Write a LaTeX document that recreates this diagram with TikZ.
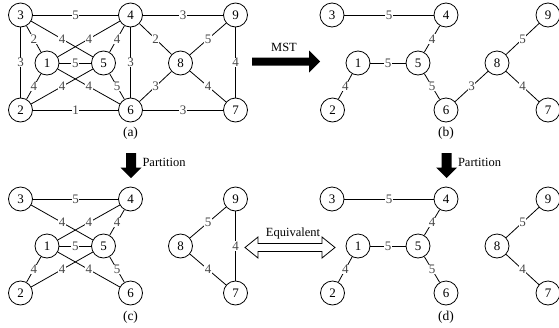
\documentclass[tikz,border=0pt]{standalone}
\usepackage{fontspec}
\setmainfont{Liberation Serif}
\begin{document}
\begin{tikzpicture}[x=1pt,y=-1pt,
  vtx/.style={circle,draw,line width=0.8pt,minimum size=24pt,inner sep=0pt,font=\fontsize{13}{13}\selectfont},
  wl/.style={fill=white,inner sep=0.6pt,font=\fontsize{13}{13}\selectfont,text=black!72},
  edge/.style={line width=0.8pt},
  captxt/.style={font=\fontsize{13.5}{13.5}\selectfont},
  arrtxt/.style={font=\fontsize{12.5}{12.5}\selectfont}]
\useasboundingbox (0,0) rectangle (559,327);
% ---------- panel (a)
\node[vtx] (a3) at (20.5,15) {3};
\node[vtx] (a4) at (130.5,15) {4};
\node[vtx] (a9) at (235.5,15) {9};
\node[vtx] (a1) at (47,63) {1};
\node[vtx] (a5) at (103.5,63) {5};
\node[vtx] (a8) at (180.5,63) {8};
\node[vtx] (a2) at (20.5,110) {2};
\node[vtx] (a6) at (130.5,110) {6};
\node[vtx] (a7) at (235.5,110) {7};
\draw[edge] (a3) -- node[wl]{5} (a4);
\draw[edge] (a4) -- node[wl]{3} (a9);
\draw[edge] (a3) -- node[wl]{3} (a2);
\draw[edge] (a3) -- node[wl]{2} (a1);
\draw[edge] (a3) -- node[wl]{4} (a5);
\draw[edge] (a1) -- node[wl]{4} (a4);
\draw[edge] (a4) -- node[wl]{4} (a5);
\draw[edge] (a1) -- node[wl]{5} (a5);
\draw[edge] (a4) -- node[wl]{3} (a6);
\draw[edge] (a4) -- node[wl]{2} (a8);
\draw[edge] (a9) -- node[wl]{5} (a8);
\draw[edge] (a9) -- node[wl]{4} (a7);
\draw[edge] (a8) -- node[wl]{3} (a6);
\draw[edge] (a8) -- node[wl]{4} (a7);
\draw[edge] (a1) -- node[wl]{4} (a2);
\draw[edge] (a2) -- node[wl]{4} (a5);
\draw[edge] (a1) -- node[wl]{4} (a6);
\draw[edge] (a5) -- node[wl]{5} (a6);
\draw[edge] (a2) -- node[wl]{1} (a6);
\draw[edge] (a6) -- node[wl]{3} (a7);
\node[captxt] (capa) at (130.5,133) {(a)};
% ---------- panel (b)
\node[vtx] (b3) at (332,15) {3};
\node[vtx] (b4) at (446,15) {4};
\node[vtx] (b9) at (548,15) {9};
\node[vtx] (b1) at (358,63) {1};
\node[vtx] (b5) at (418,63) {5};
\node[vtx] (b8) at (497,63) {8};
\node[vtx] (b2) at (332.5,110) {2};
\node[vtx] (b6) at (446,110) {6};
\node[vtx] (b7) at (548,110) {7};
\draw[edge] (b3) -- node[wl]{5} (b4);
\draw[edge] (b4) -- node[wl]{4} (b5);
\draw[edge] (b1) -- node[wl]{5} (b5);
\draw[edge] (b1) -- node[wl]{4} (b2);
\draw[edge] (b5) -- node[wl]{5} (b6);
\draw[edge] (b6) -- node[wl]{3} (b8);
\draw[edge] (b8) -- node[wl]{5} (b9);
\draw[edge] (b8) -- node[wl]{4} (b7);
\node[captxt] (capb) at (446,133) {(b)};
% ---------- panel (c)
\node[vtx] (c3) at (20.5,199) {3};
\node[vtx] (c4) at (130.5,199) {4};
\node[vtx] (c9) at (235.5,199) {9};
\node[vtx] (c1) at (47,246) {1};
\node[vtx] (c5) at (103.5,246) {5};
\node[vtx] (c8) at (180.5,246) {8};
\node[vtx] (c2) at (20.5,293) {2};
\node[vtx] (c6) at (130.5,293) {6};
\node[vtx] (c7) at (235.5,293) {7};
\draw[edge] (c3) -- node[wl]{5} (c4);
\draw[edge] (c3) -- node[wl]{4} (c5);
\draw[edge] (c1) -- node[wl]{4} (c4);
\draw[edge] (c4) -- node[wl]{4} (c5);
\draw[edge] (c1) -- node[wl]{5} (c5);
\draw[edge] (c1) -- node[wl]{4} (c2);
\draw[edge] (c2) -- node[wl]{4} (c5);
\draw[edge] (c1) -- node[wl]{4} (c6);
\draw[edge] (c5) -- node[wl]{5} (c6);
\draw[edge] (c9) -- node[wl]{5} (c8);
\draw[edge] (c9) -- node[wl]{4} (c7);
\draw[edge] (c8) -- node[wl]{4} (c7);
\node[captxt] (capc) at (130.5,317) {(c)};
% ---------- panel (d)
\node[vtx] (d3) at (332,199) {3};
\node[vtx] (d4) at (446,199) {4};
\node[vtx] (d9) at (548,199) {9};
\node[vtx] (d1) at (358,246) {1};
\node[vtx] (d5) at (418,246) {5};
\node[vtx] (d8) at (497,246) {8};
\node[vtx] (d2) at (332.5,293) {2};
\node[vtx] (d6) at (446,293) {6};
\node[vtx] (d7) at (548,293) {7};
\draw[edge] (d3) -- node[wl]{5} (d4);
\draw[edge] (d4) -- node[wl]{4} (d5);
\draw[edge] (d1) -- node[wl]{5} (d5);
\draw[edge] (d1) -- node[wl]{4} (d2);
\draw[edge] (d5) -- node[wl]{5} (d6);
\draw[edge] (d8) -- node[wl]{5} (d9);
\draw[edge] (d8) -- node[wl]{4} (d7);
\node[captxt] (capd) at (446,317) {(d)};
% ---------- MST arrow
\fill (252,57.5) -- (309,57.5) -- (309,50.5) -- (320,61.5) -- (309,72.5) -- (309,65.5) -- (252,65.5) -- cycle;
\node[arrtxt] (mst) at (284,47) {MST};
% ---------- Partition arrows
\fill (126,153) -- (136,153) -- (136,167.5) -- (141.5,167.5) -- (131,178) -- (120.5,167.5) -- (126,167.5) -- cycle;
\node[arrtxt,anchor=west] (pl) at (139,162) {Partition};
\fill (441.7,153) -- (451.7,153) -- (451.7,167.5) -- (457.2,167.5) -- (446.7,178) -- (436.2,167.5) -- (441.7,167.5) -- cycle;
\node[arrtxt,anchor=west] (pr) at (454.5,162) {Partition};
% ---------- Equivalent arrow
\draw[line width=0.8pt,fill=white] (245,247.5) -- (258,237) -- (258,243.5) -- (322,243.5) -- (322,237) -- (335,247.5) -- (322,258) -- (322,251.5) -- (258,251.5) -- (258,258) -- cycle;
\node[arrtxt] (eq) at (293,233) {Equivalent};
\end{tikzpicture}
\end{document}
